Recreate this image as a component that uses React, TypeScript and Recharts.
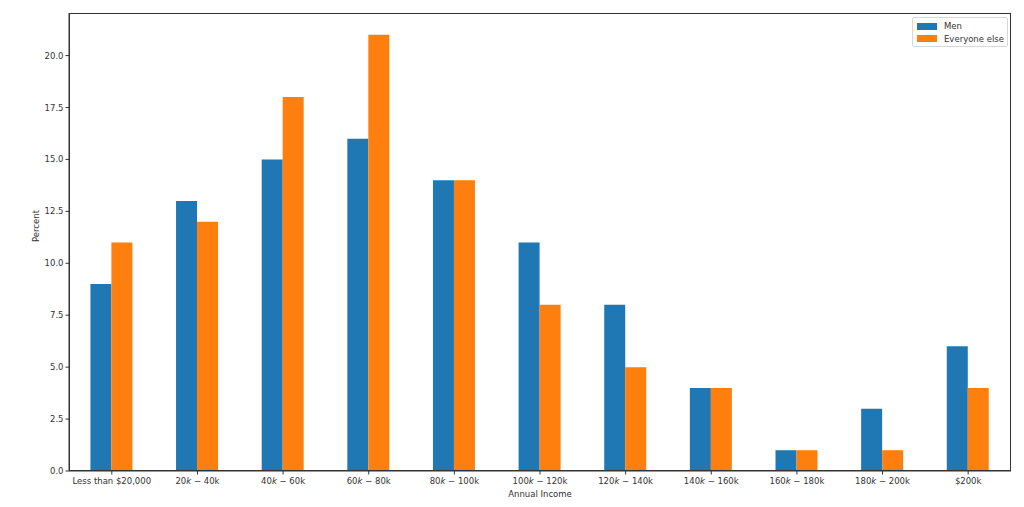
import { BarChart, Bar, XAxis, YAxis } from 'recharts';

const categories = [
  'Less than $20,000',
  '20k − 40k',
  '40k − 60k',
  '60k − 80k',
  '80k − 100k',
  '100k − 120k',
  '120k − 140k',
  '140k − 160k',
  '160k − 180k',
  '180k − 200k',
  '$200k',
];
const men = [9, 13, 15, 16, 14, 11, 8, 4, 1, 3, 6];
const everyoneElse = [11, 12, 18, 21, 14, 8, 5, 4, 1, 1, 4];
const yTicks = [0, 2.5, 5, 7.5, 10, 12.5, 15, 17.5, 20];

const series = [
  { key: 'Men', color: '#1f77b4' },
  { key: 'Everyone else', color: '#ff7f0e' },
];

const data = categories.map((income, i) => ({
  income,
  Men: men[i],
  'Everyone else': everyoneElse[i],
}));

const FONT = 'DejaVu Sans, sans-serif';
const TEXT = '#333';
const FS = 8.5;

// matplotlib mathtext: the first "k" sits inside $...$ and comes out italic
function IncomeTick(props: any) {
  const { x, y, payload } = props;
  const label: string = payload.value;
  const parts = label.includes(' − ') ? label.split(/k(.*)/) : null;
  return (
    <text x={x} y={y + 7} textAnchor="middle" fontSize={FS} fill={TEXT} fontFamily={FONT}>
      {parts ? (
        <>
          <tspan>{parts[0]}</tspan>
          <tspan fontStyle="italic">k</tspan>
          <tspan>{parts[1]}</tspan>
        </>
      ) : (
        label
      )}
    </text>
  );
}

export default function App() {
  return (
    <div style={{ position: 'absolute', left: 0, top: 0, width: 1024, height: 507, background: 'white' }}>
      <BarChart
        width={1024}
        height={507}
        data={data}
        margin={{ top: 13, right: 13, left: 0, bottom: 0 }}
        barCategoryGap="25%"
        barGap={0}
      >
        <XAxis
          dataKey="income"
          tick={<IncomeTick />}
          tickLine={{ stroke: TEXT }}
          tickSize={3.5}
          axisLine={{ stroke: TEXT }}
          interval={0}
          height={36}
          label={{ value: 'Annual Income', position: 'insideBottom', offset: 10, fontSize: FS, fill: TEXT, fontFamily: FONT }}
        />
        <YAxis
          domain={[0, 22.05]}
          ticks={yTicks}
          tickFormatter={(v: number) => v.toFixed(1)}
          tick={{ fontSize: FS, fill: TEXT, fontFamily: FONT }}
          tickLine={{ stroke: TEXT }}
          tickSize={3.5}
          axisLine={{ stroke: TEXT }}
          width={69}
          label={{ value: 'Percent', angle: -90, position: 'insideLeft', offset: 36, fontSize: FS, fill: TEXT, fontFamily: FONT }}
        />
        {series.map((s) => (
          <Bar key={s.key} dataKey={s.key} fill={s.color} isAnimationActive={false} />
        ))}
      </BarChart>
      {/* plot frame (matplotlib spines) */}
      <div
        style={{
          position: 'absolute',
          left: 69,
          top: 13,
          width: 942,
          height: 458,
          border: `1px solid ${TEXT}`,
          boxSizing: 'border-box',
          pointerEvents: 'none',
        }}
      />
      <div
        style={{
          position: 'absolute',
          left: 912,
          top: 17,
          width: 96,
          height: 30,
          background: 'white',
          border: '1px solid #d8d8d8',
          borderRadius: 2,
          padding: '2px 4px',
          boxSizing: 'border-box',
          fontFamily: FONT,
          fontSize: FS,
          lineHeight: '12px',
          color: TEXT,
          whiteSpace: 'nowrap',
        }}
      >
        {series.map((s) => (
          <div key={s.key} style={{ display: 'flex', alignItems: 'center', height: 12.5 }}>
            <span style={{ display: 'inline-block', width: 20, height: 7, background: s.color, marginRight: 7, flexShrink: 0 }} />
            <span>{s.key}</span>
          </div>
        ))}
      </div>
    </div>
  );
}
